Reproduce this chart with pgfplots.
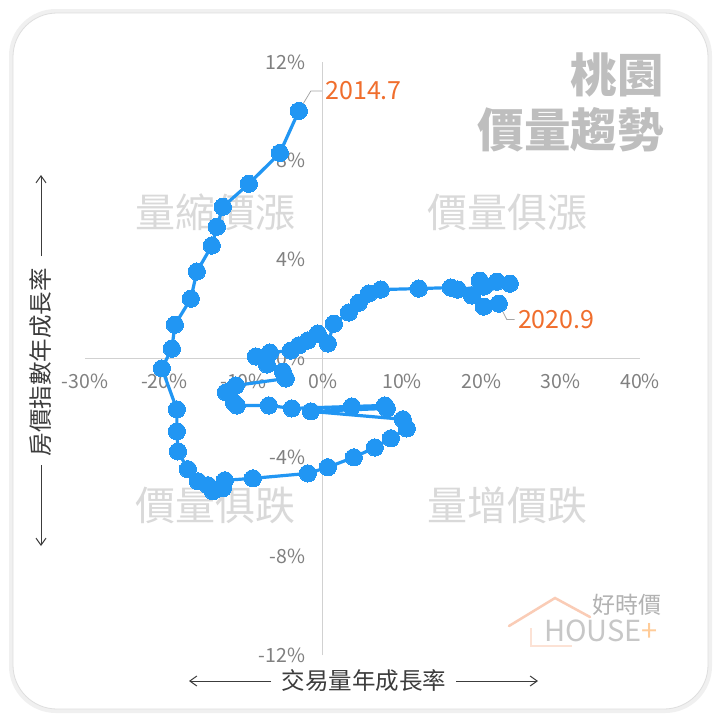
\documentclass[border=0pt]{standalone}
\usepackage{pgfplots}
\pgfplotsset{compat=1.18}
\usepackage{fontspec}
\setmainfont{Noto Sans CJK TC}
\usetikzlibrary{arrows.meta}
\definecolor{lineblue}{RGB}{33,150,243}
\definecolor{anno}{RGB}{240,110,45}
\definecolor{tickgray}{RGB}{128,128,128}
\definecolor{quad}{RGB}{217,217,217}
\definecolor{titlegray}{RGB}{190,190,190}
\definecolor{labeldark}{RGB}{60,60,60}
\begin{document}
\begin{tikzpicture}[x=1pt,y=1pt]
\useasboundingbox (0pt,0pt) rectangle (720pt,-721pt);
\fill[white] (0,0) rectangle (720,-721);
\draw[black!6, line width=6pt, rounded corners=44pt] (12,-12) rectangle (709,-710);
\filldraw[fill=white, draw=black!13, line width=0.8pt, rounded corners=44pt] (13,-13) rectangle (708,-709);
% titles
\node[anchor=east, inner sep=0, text=titlegray, font=\fontsize{46.5}{50}\selectfont\bfseries] at (664,-75) {桃園};
\node[anchor=east, inner sep=0, text=titlegray, font=\fontsize{46.5}{50}\selectfont\bfseries] at (664,-130) {價量趨勢};
% axis labels with arrows
\node[rotate=90, inner sep=0, text=labeldark, font=\fontsize{23.5}{26}\selectfont] at (41,-362) {房價指數年成長率};
\draw[labeldark, line width=1pt, -{Straight Barb[length=7pt,width=10pt]}] (41,-256) -- (41,-175);
\draw[labeldark, line width=1pt, -{Straight Barb[length=7pt,width=10pt]}] (41,-465) -- (41,-546);
\node[inner sep=0, text=labeldark, font=\fontsize{23.5}{26}\selectfont] at (364,-681) {交易量年成長率};
\draw[labeldark, line width=1pt, -{Straight Barb[length=7pt,width=10pt]}] (271,-681) -- (189,-681);
\draw[labeldark, line width=1pt, -{Straight Barb[length=7pt,width=10pt]}] (456,-681) -- (538,-681);
% logo
\draw[anno!35, line width=2.5pt, line cap=round] (509,-626) -- (555,-598) -- (590,-617);
\draw[anno!20, line width=2pt] (531,-628) -- (531,-646) -- (572,-646);
\node[anchor=east, inner sep=0, text=black!30, font=\fontsize{23}{26}\selectfont] at (662,-605) {好時價};
\node[anchor=west, inner sep=0, text=black!22, font=\fontsize{29}{32}\selectfont] at (544,-631) {HOUSE\textcolor{orange!40}{+}};
\begin{axis}[
  at={(85pt,-655pt)}, anchor=south west,
  scale only axis, width=555pt, height=593pt,
  xmin=-30, xmax=40, ymin=-12, ymax=12,
  axis lines=middle,
  axis line style={draw=black!18, line width=1.2pt, -},
  xtick={-30,-20,...,40}, ytick={-12,-8,...,12},
  major tick length=0pt,
  hide obscured x ticks=false, hide obscured y ticks=false,
  /pgf/number format/assume math mode=true,
  xticklabel={\pgfmathprintnumber{\tick}\%},
  yticklabel={\pgfmathprintnumber{\tick}\%},
  ticklabel style={font=\fontsize{19.5}{22}\selectfont, text=tickgray},
  xticklabel style={yshift=-12pt},
  yticklabel style={xshift=-14pt},
  clip=false,
]
\node[text=quad, font=\fontsize{40}{44}\selectfont] at (axis cs:-13.6,5.9) {量縮價漲};
\node[text=quad, font=\fontsize{40}{44}\selectfont] at (axis cs:23.3,5.9) {價量俱漲};
\node[text=quad, font=\fontsize{40}{44}\selectfont] at (axis cs:-13.6,-5.94) {價量俱跌};
\node[text=quad, font=\fontsize{40}{44}\selectfont] at (axis cs:23.3,-5.94) {量增價跌};
\addplot[color=lineblue, line width=3.2pt, mark=*, mark size=8.6pt,
  mark options={fill=lineblue, draw=lineblue, line width=0pt}] coordinates {
(-3.03,10.02) (-5.42,8.32) (-9.33,7.07) (-12.61,6.14) (-13.37,5.33)
(-14.00,4.57) (-15.89,3.52) (-16.65,2.42) (-18.66,1.37) (-19.04,0.40)
(-20.30,-0.40) (-18.41,-2.06) (-18.41,-2.95) (-18.28,-3.76) (-17.02,-4.48)
(-15.76,-4.97) (-14.50,-5.13) (-13.87,-5.37) (-12.61,-5.25) (-12.36,-4.93)
(-8.83,-4.85) (-1.89,-4.65) (0.63,-4.40) (3.91,-4.00) (6.56,-3.60)
(8.58,-3.23) (10.59,-2.83) (10.09,-2.46) (-1.51,-2.14) (8.07,-2.02)
(7.82,-1.90) (3.66,-1.94) (-3.91,-2.02) (-6.81,-1.90) (-10.85,-1.90)
(-11.22,-1.78) (-12.23,-1.37) (-10.97,-1.09) (-4.67,-0.81) (-5.04,-0.53)
(-7.06,-0.24) (-8.45,0.08) (-6.68,0.24) (-4.04,0.32) (-3.03,0.53)
(-1.89,0.73) (-0.63,1.01) (0.63,0.61) (1.39,1.41) (3.28,1.86)
(4.54,2.26) (5.80,2.63) (7.31,2.79) (12.11,2.83) (16.14,2.87)
(17.02,2.79) (20.30,2.91) (19.80,3.15) (21.94,3.11) (23.58,3.03)
(18.79,2.55) (20.30,2.10) (22.19,2.22)
};
\draw[black!35, line width=0.8pt] (axis cs:-3.03,10.02) -- (axis cs:-1.51,10.83) -- (axis cs:-0.13,10.83);
\node[anchor=west, inner sep=0, text=anno, font=\fontsize{25}{28}\selectfont] at (axis cs:0.3,10.83) {2014.7};
\draw[black!35, line width=0.8pt] (axis cs:22.19,2.22) -- (axis cs:23.2,1.58) -- (axis cs:24.2,1.58);
\node[anchor=west, inner sep=0, text=anno, font=\fontsize{25}{28}\selectfont] at (axis cs:24.6,1.58) {2020.9};
\end{axis}
\end{tikzpicture}
\end{document}
